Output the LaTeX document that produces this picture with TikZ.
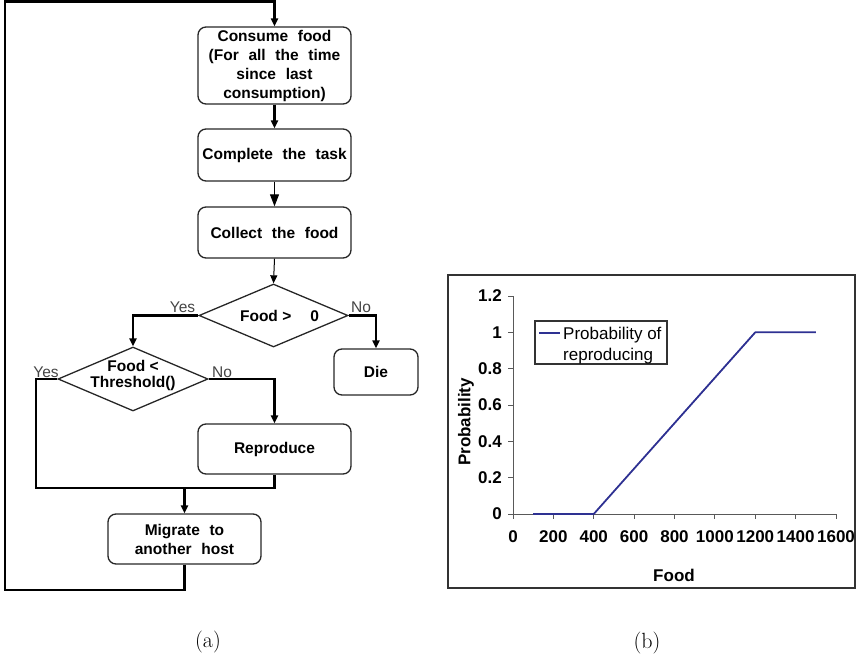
\documentclass[tikz,border=0pt]{standalone}
\usepackage{fontspec}
\newfontfamily\arialfont{Liberation Sans}
\usetikzlibrary{arrows.meta,shapes.geometric}
\definecolor{plotblue}{HTML}{2E3192}
\definecolor{lblgray}{HTML}{444444}
\newcommand\wideword{\spaceskip=9.7pt plus 2pt minus 1pt\relax}
\tikzset{
  flowbox/.style={draw=black!85, line width=1.3pt, rounded corners=8pt, align=center,
    font=\arialfont\bfseries\fontsize{15.5}{19}\selectfont, inner sep=0pt,
    execute at begin node=\wideword},
  dia/.style={draw=black!85, line width=1.3pt, diamond, inner sep=0pt},
  diatext/.style={align=center, font=\arialfont\bfseries\fontsize{15.5}{16}\selectfont},
  yn/.style={font=\arialfont\fontsize{15.5}{16}\selectfont, text=lblgray, inner sep=0pt},
  thickline/.style={line width=2.4pt},
  thinline/.style={line width=1pt},
  arr/.style={-{Triangle[length=8pt,width=7pt]}},
  bigarr/.style={-{Triangle[length=12pt,width=9pt]}},
  ticklbl/.style={font=\arialfont\bfseries\fontsize{17}{17}\selectfont, inner sep=0pt},
  axislbl/.style={font=\arialfont\bfseries\fontsize{17}{17}\selectfont, inner sep=0pt},
  axisline/.style={draw=black!65, line width=0.9pt},
  caption/.style={font=\fontsize{22}{24}\selectfont, inner sep=0pt}
}
\begin{document}
\begin{tikzpicture}[x=1pt,y=-1pt]
\useasboundingbox (0,0) rectangle (856,660);
% ---------- flowchart ----------
\node[flowbox, minimum width=153pt, minimum height=77pt] (cons) at (274.5,65.5)
  {Consume food\\(For all the time\\since last\\consumption)};
\node[flowbox, minimum width=153pt, minimum height=52pt] (comp) at (274.5,155) {Complete the task};
\node[flowbox, minimum width=153pt, minimum height=51pt] (coll) at (274.5,232.5) {Collect the food};
\node[dia, minimum width=149pt, minimum height=63pt] (d1) at (273.5,315.5) {};
\node[diatext] (d1t) at (279.5,315.5) {Food >\hspace{19pt}0};
\node[flowbox, minimum width=84pt, minimum height=46pt] (die) at (376,372) {Die};
\node[dia, minimum width=150pt, minimum height=64pt] (d2) at (133,379) {};
\node[diatext] (d2t) at (133,375.5) {Food <\\Threshold()};
\node[flowbox, minimum width=153pt, minimum height=50pt] (rep) at (274.5,449) {Reproduce};
\node[flowbox, minimum width=153pt, minimum height=50pt] (mig) at (184.5,539) {Migrate to\\another host};

\node[yn] (y1) at (182.5,307.5) {Yes};
\node[yn] (n1) at (361,307.5) {No};
\node[yn] (y2) at (46,372) {Yes};
\node[yn] (n2) at (222,372) {No};

\coordinate (lb) at (5,590);
\coordinate (lt) at (5,1.5);
\coordinate (m1) at (36,488);
\coordinate (m2) at (184.5,488);

\draw[thickline, arr] (mig.south) |- (lb) -- (lt) -| (cons.north);
\draw[thickline, arr] (cons.south) -- (comp.north);
\draw[thinline, bigarr] (comp.south) -- (coll.north);
\draw[thinline, arr] (coll.south) -- (d1.north);
\draw[thickline, arr] (d1.west) -| (d2.north);
\draw[thickline, arr] (d1.east) -| (die.north);
\draw[thickline, arr] (d2.east) -| (rep.north);
\draw[thickline] (d2.west) -| (m1) -| (rep.south);
\draw[thickline, arr] (m2) -- (mig.north);

% ---------- chart ----------
\draw[draw=black!80, line width=1.3pt] (448,275) rectangle (855,588);
\coordinate (o) at (513,514);
\coordinate (ytop) at (513,296);
\coordinate (xend) at (836,514);
\draw[axisline] (ytop) -- (o) -- (xend);
\foreach \v/\l [count=\i from 0] in {0/0,0.2/0.2,0.4/0.4,0.6/0.6,0.8/0.8,1/1,1.2/1.2} {
  \draw[axisline] (508,514-181.67*\v) -- (513,514-181.67*\v);
  \node[ticklbl, anchor=east] (yl\i) at (502,514-181.67*\v) {\l};
}
\foreach \v [count=\i from 0] in {0,200,400,600,800,1000,1200,1400,1600} {
  \draw[axisline] (513+0.20188*\v,514) -- (513+0.20188*\v,519);
  \node[ticklbl] (xl\i) at (513+0.20188*\v,537) {\v};
}
\node[axislbl] (xlab) at (674,575) {Food};
\node[axislbl, rotate=90] (ylab) at (466,422) {Probability};
\draw[plotblue, line width=1.8pt, line join=round]
  (513+0.20188*100,514) -- (513+0.20188*400,514) -- (513+0.20188*800,514-181.67*0.5)
  -- (513+0.20188*1200,514-181.67) -- (513+0.20188*1500,514-181.67);
% legend
\draw[draw=black!80, line width=1.2pt, fill=white] (535,321) rectangle (667,364);
\draw[plotblue, line width=1.8pt] (539,333) -- (560,333);
\node[font=\arialfont\fontsize{17}{21}\selectfont, anchor=west, align=left, inner sep=0pt] (leg)
  at (563,346) {Probability of\\reproducing};

% ---------- captions ----------
\node[caption] (ca) at (208,642) {(a)};
\node[caption] (cb) at (647,643) {(b)};
\end{tikzpicture}
\end{document}
